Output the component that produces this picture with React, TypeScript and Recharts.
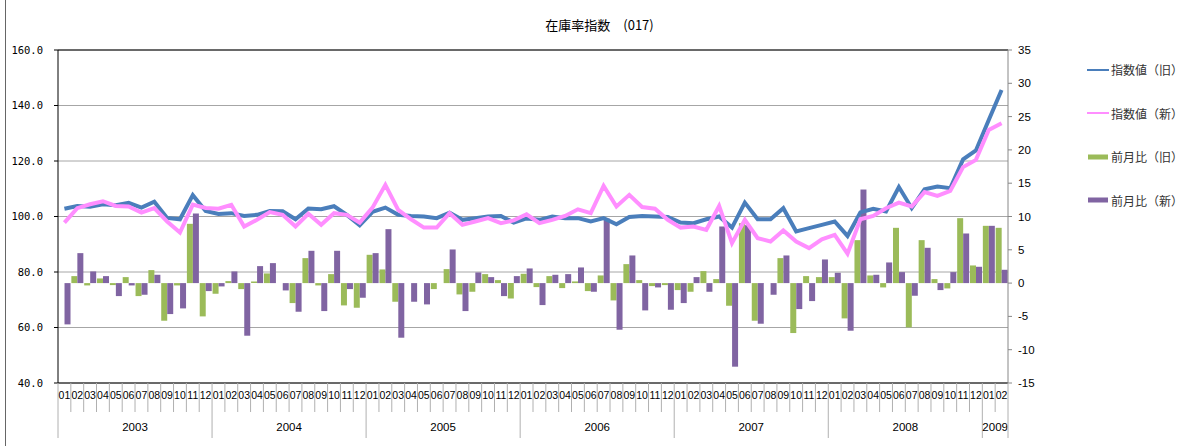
import React from "react";
import {
  ComposedChart,
  Bar,
  Line,
  XAxis,
  YAxis,
  CartesianGrid,
  Legend,
  ReferenceLine,
} from "recharts";

// 2003/01 - 2009/02
const periods = [
  "2003-01", "2003-02", "2003-03", "2003-04", "2003-05", "2003-06", "2003-07", "2003-08", "2003-09", "2003-10", "2003-11", "2003-12",
  "2004-01", "2004-02", "2004-03", "2004-04", "2004-05", "2004-06", "2004-07", "2004-08", "2004-09", "2004-10", "2004-11", "2004-12",
  "2005-01", "2005-02", "2005-03", "2005-04", "2005-05", "2005-06", "2005-07", "2005-08", "2005-09", "2005-10", "2005-11", "2005-12",
  "2006-01", "2006-02", "2006-03", "2006-04", "2006-05", "2006-06", "2006-07", "2006-08", "2006-09", "2006-10", "2006-11", "2006-12",
  "2007-01", "2007-02", "2007-03", "2007-04", "2007-05", "2007-06", "2007-07", "2007-08", "2007-09", "2007-10", "2007-11", "2007-12",
  "2008-01", "2008-02", "2008-03", "2008-04", "2008-05", "2008-06", "2008-07", "2008-08", "2008-09", "2008-10", "2008-11", "2008-12",
  "2009-01", "2009-02",
];

// 指数値（旧）
const indexOld = [
  102.8, 103.8, 103.5, 104.4, 104.1, 104.9, 103.2, 105.3, 99.5, 99.0, 107.7, 102.0,
  100.9, 101.2, 100.2, 100.6, 102.0, 101.9, 99.0, 102.9, 102.6, 103.7, 100.6, 96.8,
  101.7, 103.2, 100.6, 100.2, 100.0, 99.4, 101.4, 98.8, 99.4, 100.0, 100.2, 97.8,
  99.3, 98.8, 100.0, 99.4, 99.4, 98.2, 99.4, 97.2, 99.8, 100.2, 100.0, 99.8,
  97.8, 97.6, 99.0, 100.0, 96.0, 105.0, 99.0, 99.0, 103.0, 94.6, 95.8, 97.0,
  98.2, 93.0, 101.5, 102.8, 101.8, 110.6, 103.0, 109.8, 110.8, 110.2, 120.6, 123.8,
  134.8, 145.6,
];

// 指数値（新）
const indexNew = [
  97.8, 103.0, 104.4, 105.5, 103.8, 103.6, 101.4, 103.0, 98.2, 94.2, 104.3, 103.1,
  102.8, 104.2, 96.4, 98.8, 101.6, 100.6, 96.4, 101.0, 97.0, 101.2, 100.6, 97.8,
  103.2, 111.4, 102.4, 99.0, 96.0, 96.0, 101.2, 97.0, 98.2, 99.4, 97.6, 98.6,
  100.8, 97.6, 98.8, 100.2, 102.6, 101.2, 111.0, 103.6, 107.8, 103.4, 102.8, 98.8,
  96.0, 96.4, 95.2, 103.8, 90.4, 98.8, 92.2, 91.0, 95.0, 91.0, 88.6, 91.8,
  93.4, 86.6, 99.0, 100.2, 103.0, 105.0, 103.6, 108.8, 107.4, 109.2, 117.8, 120.4,
  131.2, 133.6,
];

// 前月比（旧）
const momOld = [
  null, 1.05, -0.35, 0.7, -0.3, 0.9, -1.95, 1.95, -5.65, -0.35, 8.9, -5.0,
  -1.6, 0.3, -0.9, 0.25, 1.45, 0, -3.0, 3.75, -0.35, 1.35, -3.35, -3.7,
  4.25, 2.05, -2.8, 0, 0, -0.9, 2.1, -1.7, -1.3, 1.35, 0.45, -2.3,
  1.4, -0.6, 1.05, -0.75, 0.25, -1.2, 1.15, -2.6, 2.85, 0.45, -0.45, -0.3,
  -1.05, -1.3, 1.8, 0.6, -3.4, 9.0, -5.65, 0, 3.75, -7.5, 1.05, 0.9,
  0.9, -5.3, 6.45, 1.15, -0.65, 8.3, -6.65, 6.45, 0.6, -0.8, 9.75, 2.65,
  8.6, 8.3,
];

// 前月比（新）
const momNew = [
  -6.2, 4.5, 1.75, 1.05, -1.95, -0.35, -1.75, 1.25, -4.65, -3.8, 10.45, -1.2,
  -0.5, 1.75, -7.9, 2.55, 3.0, -1.1, -4.3, 4.85, -4.2, 4.85, -0.9, -2.2,
  4.5, 8.1, -8.2, -2.8, -3.2, 0, 5.05, -4.2, 1.6, 0.9, -1.95, 1.05,
  2.2, -3.3, 1.25, 1.35, 2.35, -1.3, 9.7, -7.0, 4.15, -4.1, -0.65, -4.0,
  -3.0, 0.9, -1.3, 8.5, -12.55, 8.7, -6.1, -1.75, 4.15, -3.9, -2.7, 3.55,
  1.55, -7.15, 14.05, 1.25, 3.1, 1.65, -1.9, 5.3, -1.05, 1.65, 7.45, 2.45,
  8.6, 2.0,
];

const leftTicks = [40, 60, 80, 100, 120, 140, 160];
const rightTicks = [-15, -10, -5, 0, 5, 10, 15, 20, 25, 30, 35];

const series = [
  { key: "idxOld", label: "指数値（旧）", color: "#4A7EBB", kind: "line" },
  { key: "idxNew", label: "指数値（新）", color: "#FF8EFF", kind: "line" },
  { key: "momOld", label: "前月比（旧）", color: "#9BBB59", kind: "bar" },
  { key: "momNew", label: "前月比（新）", color: "#8064A2", kind: "bar" },
];

const data = periods.map((p, i) => ({
  period: p,
  idxOld: indexOld[i],
  idxNew: indexNew[i],
  momOld: momOld[i],
  momNew: momNew[i],
}));

const W = 1199;
const H = 446;
const PLOT_LEFT = 58;
const PLOT_RIGHT = 1008;
const LEGEND_W = 100;
const STEP = (PLOT_RIGHT - PLOT_LEFT) / periods.length;

const sans = "'Liberation Sans', Arial, sans-serif";
const jp = "'Noto Sans CJK JP', sans-serif";

const MonthTick = (props: any) => {
  const { x, y, payload } = props;
  const i = payload.index;
  const [yr, mo] = periods[i].split("-");
  const first = i === 0 || mo === "01";
  const last = i === periods.length - 1;
  const left = x - STEP / 2;
  let yearLabel = null;
  if (first) {
    let n = 0;
    while (i + n < periods.length && periods[i + n].startsWith(yr)) n++;
    yearLabel = (
      <text x={left + (n * STEP) / 2} y={y + 48} textAnchor="middle" fontSize={11.5} fontFamily={sans} fill="#000">
        {yr}
      </text>
    );
  }
  return (
    <g>
      <line x1={left} x2={left} y1={y} y2={y + (first ? 55 : 29)} stroke="#b0b0b0" />
      {last && <line x1={left + STEP} x2={left + STEP} y1={y} y2={y + 55} stroke="#b0b0b0" />}
      <text x={x} y={y + 16} textAnchor="middle" fontSize={10.5} fontFamily={sans} fill="#000">
        {mo}
      </text>
      {yearLabel}
    </g>
  );
};

const renderLegend = () => (
  <div style={{ width: LEGEND_W, fontFamily: jp, fontSize: 12, color: "#333" }}>
    {series.map((s) => (
      <div key={s.key} style={{ height: 43.5, display: "flex", alignItems: "center" }}>
        <svg width={22} height={8} style={{ marginRight: 2 }}>
          {s.kind === "line" ? (
            <line x1={0} x2={22} y1={4} y2={4} stroke={s.color} strokeWidth={2} />
          ) : (
            <rect x={1} y={1.5} width={20} height={5} fill={s.color} />
          )}
        </svg>
        <span>{s.label}</span>
      </div>
    ))}
  </div>
);

export default function App() {
  return (
    <div style={{ position: "absolute", left: 0, top: 0, width: W, height: H, background: "#fff" }}>
      <div style={{ position: "absolute", left: 5, top: 0, width: 0, height: H, borderLeft: "1px solid #666" }} />
      <div
        style={{
          position: "absolute",
          left: 0,
          top: 15,
          width: W,
          textAlign: "center",
          fontFamily: jp,
          fontSize: 13,
          color: "#000",
        }}
      >
        在庫率指数　(017)
      </div>
      <ComposedChart
        width={W}
        height={H}
        data={data}
        margin={{ top: 50, right: 0, bottom: 5, left: 0 }}
        barCategoryGap="4%"
        barGap={0}
      >
        <CartesianGrid yAxisId="left" vertical={false} stroke="#a6a6a6" />
        <XAxis
          dataKey="period"
          interval={0}
          tickLine={false}
          tickSize={0}
          tickMargin={0}
          height={58}
          axisLine={{ stroke: "#000" }}
          tick={<MonthTick />}
        />
        <YAxis
          yAxisId="left"
          domain={[40, 160]}
          ticks={leftTicks}
          width={PLOT_LEFT}
          axisLine={{ stroke: "#000" }}
          tickLine={{ stroke: "#000" }}
          tickSize={4}
          tickMargin={11}
          tickFormatter={(v: number) => v.toFixed(1)}
          tick={{ fontSize: 10.5, fill: "#000", fontFamily: "'DejaVu Sans Mono', monospace" }}
        />
        <YAxis
          yAxisId="right"
          orientation="right"
          domain={[-15, 35]}
          ticks={rightTicks}
          width={W - PLOT_RIGHT - LEGEND_W}
          axisLine={{ stroke: "#888" }}
          tickLine={{ stroke: "#888" }}
          tickSize={4}
          tickMargin={6}
          tick={{ fontSize: 11.5, fill: "#000", fontFamily: sans, textAnchor: "start" }}
        />
        <ReferenceLine yAxisId="left" y={160} stroke="#000" />
        <Legend
          layout="vertical"
          align="right"
          verticalAlign="top"
          content={renderLegend}
          wrapperStyle={{ top: 48, right: 12, left: "auto", width: LEGEND_W }}
        />
        <Bar yAxisId="right" dataKey="momOld" name="前月比（旧）" fill="#9BBB59" isAnimationActive={false} />
        <Bar yAxisId="right" dataKey="momNew" name="前月比（新）" fill="#8064A2" isAnimationActive={false} />
        <Line
          yAxisId="left"
          type="linear"
          dataKey="idxOld"
          name="指数値（旧）"
          stroke="#4A7EBB"
          strokeWidth={4}
          dot={false}
          isAnimationActive={false}
        />
        <Line
          yAxisId="left"
          type="linear"
          dataKey="idxNew"
          name="指数値（新）"
          stroke="#FF8EFF"
          strokeWidth={4}
          dot={false}
          isAnimationActive={false}
        />
      </ComposedChart>
    </div>
  );
}
